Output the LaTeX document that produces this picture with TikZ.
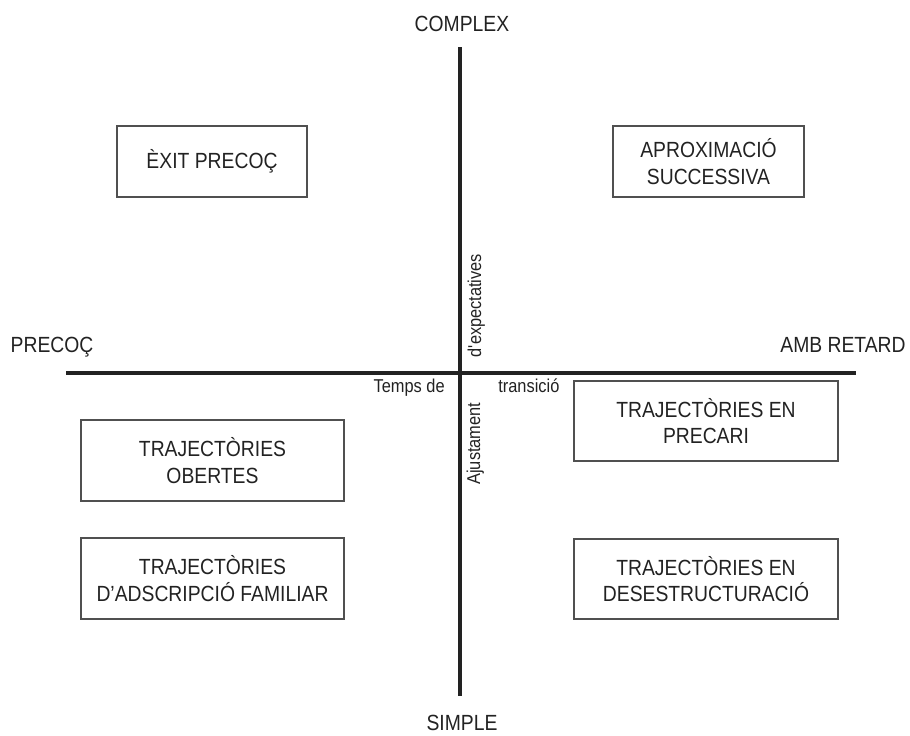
\documentclass[tikz,border=0pt]{standalone}
\usepackage{fontspec}
\setmainfont{Liberation Sans}[FakeStretch=0.88]
\usepackage{tikz}
\usetikzlibrary{positioning}

\definecolor{inkgray}{HTML}{222222}
\definecolor{boxgray}{HTML}{505050}

\tikzset{
  quadbox/.style={draw=boxgray, line width=0.7pt, text=inkgray, align=center,
    inner sep=0pt, font=\fontsize{12.5}{15.2}\selectfont},
  polelabel/.style={text=inkgray, inner sep=0pt, font=\fontsize{12.5}{14.8}\selectfont},
  axislabel/.style={text=inkgray, inner sep=0pt, font=\fontsize{10.6}{12}\selectfont},
  axisline/.style={draw=inkgray, line width=2.5pt}
}

\begin{document}
\begin{tikzpicture}[x=0.02cm, y=-0.02cm]
\useasboundingbox (0,0) rectangle (910,735);

% axes
\coordinate (axtop) at (460,47);
\coordinate (axbottom) at (460,696);
\coordinate (axleft) at (66,373);
\coordinate (axright) at (856,373);
\draw[axisline] (axleft) -- (axright);
\draw[axisline] (axtop) -- (axbottom);

% poles
\node[polelabel, anchor=base] (complex) at (462,31) {COMPLEX};
\node[polelabel, anchor=base] (simple) at (462,730) {SIMPLE};
\node[polelabel, anchor=base] (precoc) at (52,352) {PRECOÇ};
\node[polelabel, anchor=base] (retard) at (843,352) {AMB RETARD};

% axis captions
\node[axislabel, anchor=base east] (temps) at (445,392) {Temps de};
\node[axislabel, anchor=base west] (transicio) at (498,392) {transició};
\node[axislabel, rotate=90, anchor=base west] (expect) at (481,358) {d\textquotesingle expectatives};
\node[axislabel, rotate=90, anchor=base west] (ajust) at (480,485) {Ajustament};

% quadrants
\node[quadbox, minimum width=3.8cm, minimum height=1.42cm] (exit) at (212,161.5) {ÈXIT PRECOÇ};
\node[quadbox, minimum width=3.82cm, minimum height=1.42cm] (aprox) at (708.5,161.5) {APROXIMACIÓ\\SUCCESSIVA};
\node[quadbox, minimum width=5.26cm, minimum height=1.62cm] (obertes) at (212.5,460.5) {TRAJECTÒRIES\\OBERTES};
\node[quadbox, minimum width=5.26cm, minimum height=1.62cm] (familiar) at (212.5,578.5) {TRAJECTÒRIES\\D’ADSCRIPCIÓ FAMILIAR};
\node[quadbox, minimum width=5.28cm, minimum height=1.6cm] (precari) at (706,421) {TRAJECTÒRIES EN\\PRECARI};
\node[quadbox, minimum width=5.28cm, minimum height=1.6cm] (desestr) at (706,579) {TRAJECTÒRIES EN\\DESESTRUCTURACIÓ};

\end{tikzpicture}
\end{document}
